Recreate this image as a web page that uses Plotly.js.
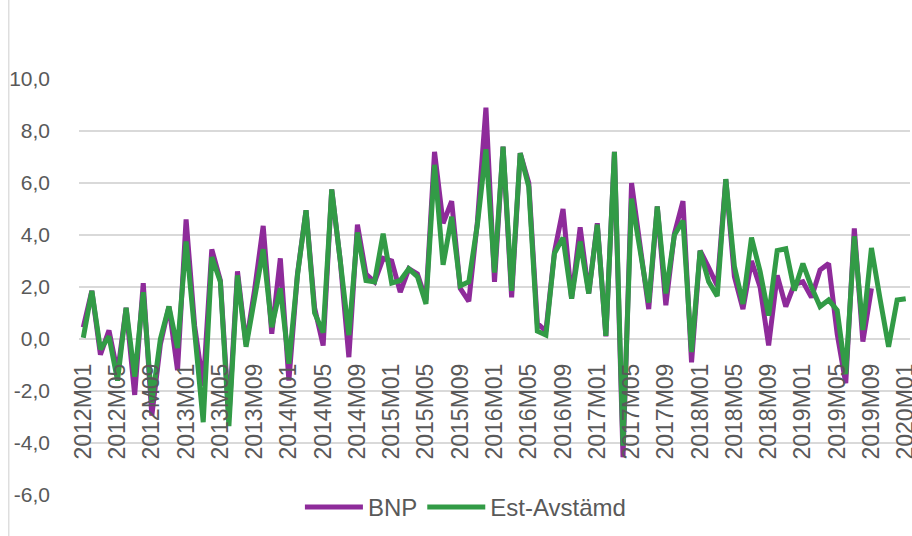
<!DOCTYPE html>
<html>
<head>
<meta charset="utf-8">
<script src="https://cdn.plot.ly/plotly-3.0.1.min.js"></script>
<style>html,body{margin:0;padding:0;background:#fff;}#chart{width:912px;height:536px;}</style>
</head>
<body>
<div id="chart"></div>
<script>
// Monthly categories 2012M01 .. 2020M01
const years = [2012, 2013, 2014, 2015, 2016, 2017, 2018, 2019, 2020];
const months = [];
years.forEach(y => {
  for (let m = 1; m <= 12; m++) {
    if (y === 2020 && m > 1) break;
    months.push(y + 'M' + (m < 10 ? '0' + m : m));
  }
});
const tickLabels = months.filter((_, i) => i % 4 === 0);

const yTickVals = [-6, -4, -2, 0, 2, 4, 6, 8, 10];
const yTickText = ['-6,0', '-4,0', '-2,0', '0,0', '2,0', '4,0', '6,0', '8,0', '10,0'];

const bnp = [
  0.45, 1.85, -0.6, 0.33, -1.3, 1.2, -2.15, 2.15, -2.95, -0.2, 1.25, -1.2,
  4.6, 0.5, -1.8, 3.45, 2.25, -3.0, 2.6, -0.2, 1.9, 4.35, 0.2, 3.1,
  -1.6, 2.5, 4.95, 1.2, -0.25, 5.75, 3.0, -0.7, 4.4, 2.5, 2.2, 3.1,
  3.0, 1.8, 2.7, 2.5, 1.5, 7.2, 4.45, 5.3, 1.95, 1.45, 4.5, 8.9,
  2.2, 7.4, 1.6, 7.15, 6.0, 0.6, 0.3, 3.35, 5.0, 1.55, 4.3, 1.75,
  4.45, 0.1, 7.2, -4.55, 6.0, 3.4, 1.15, 5.1, 1.3, 4.05, 5.3, -0.9,
  3.4, 2.75, 2.05, 6.15, 2.4, 1.15, 3.0, 2.0, -0.25, 2.45, 1.25, 2.1,
  2.2, 1.6, 2.65, 2.9, 0.2, -1.7, 4.25, -0.1, 1.95
];
const estAvstamd = [
  0.05, 1.85, -0.4, 0.1, -1.6, 1.2, -1.45, 1.8, -2.45, 0.0, 1.25, -0.35,
  3.75, 0.3, -3.2, 3.15, 2.2, -3.35, 2.45, -0.3, 1.6, 3.45, 0.45, 1.95,
  -0.95, 2.45, 4.95, 1.0, 0.25, 5.75, 3.0, 0.15, 4.1, 2.25, 2.2, 4.05,
  2.15, 2.25, 2.7, 2.4, 1.35, 6.7, 2.85, 4.7, 2.05, 2.2, 4.4, 7.3,
  2.55, 7.4, 1.85, 7.15, 5.85, 0.3, 0.15, 3.3, 3.9, 1.55, 3.75, 1.75,
  4.4, 0.12, 7.2, -4.1, 5.4, 3.4, 1.4, 5.1, 1.75, 4.0, 4.55, -0.5,
  3.4, 2.2, 1.65, 6.15, 2.8, 1.35, 3.9, 2.6, 0.9, 3.4, 3.47, 1.87,
  2.9, 2.0, 1.25, 1.5, 1.1, -1.35, 3.95, 0.35, 3.5, 1.55, -0.3, 1.5,
  1.55
];

const purple = '#8e2b9a';
const green = '#329b46';
const textColor = '#595959';
const font = 'Liberation Sans, Arial, sans-serif';

const traces = [
  { x: months.slice(0, bnp.length), y: bnp, name: 'BNP', type: 'scatter', mode: 'lines',
    line: { color: purple, width: 5 } },
  { x: months.slice(0, estAvstamd.length), y: estAvstamd, name: 'Est-Avstämd', type: 'scatter', mode: 'lines',
    line: { color: green, width: 5 } }
];

const layout = {
  width: 912, height: 536,
  margin: { l: 79, r: 2, t: 79, b: 41 },
  paper_bgcolor: '#ffffff', plot_bgcolor: '#ffffff',
  font: { family: font, size: 20, color: textColor },
  showlegend: true,
  legend: { orientation: 'h', x: 0.465, xanchor: 'center', y: 0.024, yanchor: 'top',
            font: { family: font, size: 24, color: textColor }, itemwidth: 58, bgcolor: 'rgba(0,0,0,0)' },
  xaxis: {
    type: 'category', range: [-0.5, months.length - 0.5],
    tickmode: 'array', tickvals: tickLabels, ticktext: tickLabels,
    tickangle: -90, showgrid: false, zeroline: false, showline: false,
    ticks: '', anchor: 'free', position: 0.375, ticklabelstandoff: 19,
    tickfont: { family: font, size: 23, color: textColor }, fixedrange: true
  },
  yaxis: {
    range: [-6, 10], tickmode: 'array', tickvals: yTickVals, ticktext: yTickText,
    showgrid: true, gridcolor: '#d9d9d9', gridwidth: 1.3, zeroline: false, showline: false,
    ticks: '', ticklabelstandoff: 28,
    tickfont: { family: font, size: 21, color: textColor }, fixedrange: true
  },
  shapes: [
    { type: 'line', xref: 'paper', yref: 'paper', x0: -0.0845, x1: -0.0845, y0: -0.2, y1: 1.2,
      line: { color: '#d9d9d9', width: 1.3 } }
  ]
};

Plotly.newPlot('chart', traces, layout, { displayModeBar: false, staticPlot: true });
</script>
</body>
</html>
